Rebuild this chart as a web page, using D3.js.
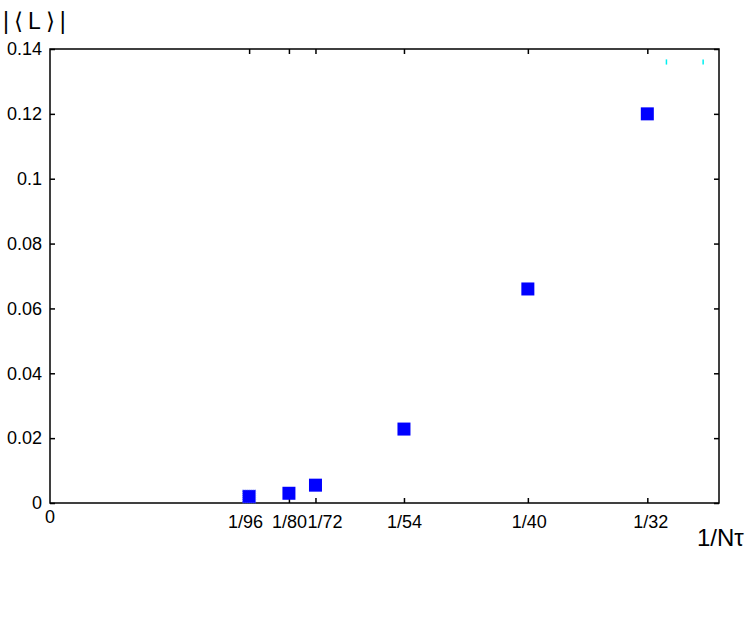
<!DOCTYPE html>
<html>
<head>
<meta charset="utf-8">
<script src="https://cdn.jsdelivr.net/npm/d3@7"></script>
<style>
  body { margin: 0; background: #fff; }
  svg { display: block; font-family: "Liberation Sans", Arial, sans-serif; }
</style>
</head>
<body>
<script>
var w = 747,
    h = 626;

// data
var xDenoms = [96, 80, 72, 54, 40, 32];
var xTickLabels = ['1/96', '1/80', '1/72', '1/54', '1/40', '1/32'];
var lValues = [0.002, 0.003, 0.0055, 0.0228, 0.066, 0.12];
var yTicks = [0, 0.02, 0.04, 0.06, 0.08, 0.1, 0.12, 0.14];
var legendStubs = [0.03225, 0.03417]; // stray cyan legend remnants, in x units
var labelShift = [-4, 0, 9, 0, 1, 3]; // hand nudges so crowded labels don't collide

var margin = {left: 50, right: 28, top: 49, bottom: 123};

var svg = d3.select('body')
    .append('svg')
    .attr('width', w)
    .attr('height', h);

var x = d3.scaleLinear()
    .domain([0, 0.035])
    .range([margin.left, w - margin.right]);
var y = d3.scaleLinear()
    .domain([0, 0.14])
    .range([h - margin.bottom, margin.top]);

var xVals = xDenoms.map(function(d) { return 1 / d; });

// frame
svg.append('rect')
    .attr('x', x(0))
    .attr('y', y(0.14))
    .attr('width', x(0.035) - x(0))
    .attr('height', y(0) - y(0.14))
    .attr('fill', 'none')
    .attr('stroke', '#000')
    .attr('stroke-width', 1.5);

// bottom axis: ticks pointing inward, labels below
var bottomAx = svg.append('g')
    .attr('transform', 'translate(0,' + y(0) + ')')
    .call(d3.axisBottom(x)
        .tickValues(xVals)
        .tickFormat(function(d, i) { return xTickLabels[i]; })
        .tickSizeInner(-5)
        .tickSizeOuter(0)
        .tickPadding(12));
bottomAx.select('.domain').remove();
bottomAx.selectAll('line').attr('stroke-width', 1.5);
bottomAx.selectAll('text')
    .attr('font-size', 18)
    .attr('fill', '#000')
    .attr('dx', function(d, i) { return labelShift[i]; });

// top axis mirror ticks
var topAx = svg.append('g')
    .attr('transform', 'translate(0,' + y(0.14) + ')')
    .call(d3.axisTop(x).tickValues(xVals).tickSizeInner(-5).tickSizeOuter(0).tickFormat(''));
topAx.select('.domain').remove();
topAx.selectAll('line').attr('stroke-width', 1.5);

// left axis
var leftAx = svg.append('g')
    .attr('transform', 'translate(' + x(0) + ',0)')
    .call(d3.axisLeft(y)
        .tickValues(yTicks)
        .tickFormat(d3.format('~g'))
        .tickSizeInner(-5)
        .tickSizeOuter(0)
        .tickPadding(8));
leftAx.select('.domain').remove();
leftAx.selectAll('line').attr('stroke-width', 1.5);
leftAx.selectAll('text')
    .attr('font-size', 18)
    .attr('fill', '#000');

// right axis mirror ticks
var rightAx = svg.append('g')
    .attr('transform', 'translate(' + x(0.035) + ',0)')
    .call(d3.axisRight(y).tickValues(yTicks).tickSizeInner(-5).tickSizeOuter(0).tickFormat(''));
rightAx.select('.domain').remove();
rightAx.selectAll('line').attr('stroke-width', 1.5);

// origin label on x axis
svg.append('text')
    .attr('x', x(0))
    .attr('y', y(0) + 20)
    .attr('text-anchor', 'middle')
    .attr('font-size', 18)
    .text('0');

// axis titles
svg.append('text')
    .attr('x', 3)
    .attr('y', 29)
    .attr('font-size', 23)
    .attr('letter-spacing', 5)
    .text('|\u27E8L\u27E9|');

svg.append('text')
    .attr('x', 697)
    .attr('y', 546)
    .attr('font-size', 24)
    .text('1/N\u03C4');

// stray legend stubs
svg.selectAll('.stub')
    .data(legendStubs)
    .enter()
    .append('line')
    .attr('class', 'stub')
    .attr('x1', function(d) { return x(d); })
    .attr('x2', function(d) { return x(d); })
    .attr('y1', y(0.1368))
    .attr('y2', y(0.1352))
    .attr('stroke', '#00f0f0')
    .attr('stroke-width', 1.5);

// data points
var sq = 13;
svg.selectAll('.pt')
    .data(lValues)
    .enter()
    .append('rect')
    .attr('class', 'pt')
    .attr('x', function(d, i) { return x(xVals[i]) - sq / 2; })
    .attr('y', function(d) { return y(d) - sq / 2; })
    .attr('width', sq)
    .attr('height', sq)
    .attr('fill', '#0000ff')
    .attr('stroke', function(d, i) { return i === 0 ? '#5c6cff' : 'none'; })
    .attr('stroke-dasharray', '1,1');
</script>
</body>
</html>
